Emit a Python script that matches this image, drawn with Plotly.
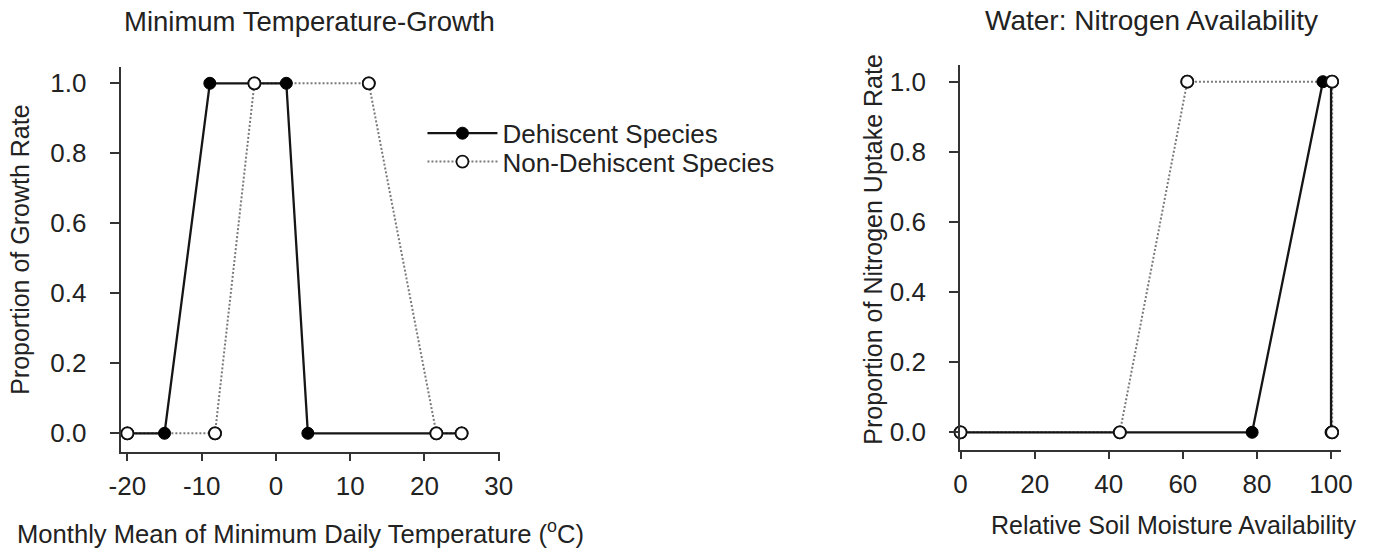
import plotly.graph_objects as go

W, H = 1384, 550

# ---- data ----
temp_deh_x = [-20, -15, -8.9, 1.4, 4.3, 25]
temp_deh_y = [0, 0, 1, 1, 0, 0]
temp_non_x = [-20, -8.2, -2.9, 12.5, 21.6, 25]
temp_non_y = [0, 0, 1, 1, 0, 0]

soil_deh_x = [0, 78.7, 97.8, 100, 100]
soil_deh_y = [0, 0, 1, 1, 0]
soil_non_x = [0, 43, 61.2, 100.3, 100.3]
soil_non_y = [0, 0, 1, 1, 0]

temp_ticks = [-20, -10, 0, 10, 20, 30]
temp_ticklabels = ["-20", "-10", "0", "10", "20", "30"]
soil_ticks = [0, 20, 40, 60, 80, 100]
y_ticks = [0.0, 0.2, 0.4, 0.6, 0.8, 1.0]
y_ticklabels = ["0.0", "0.2", "0.4", "0.6", "0.8", "1.0"]

FONT = "Liberation Sans, Arial, sans-serif"
TXT = "#222222"
AX = "#333333"


def px(x):
    return x / W


def py(y):
    return 1 - y / H


fig = go.Figure()

solid = dict(color="#151515", width=2.3)
dotted = dict(color="#7a7a7a", width=2, dash="2px,2px")
filled = dict(symbol="circle", size=12, color="#000000", line=dict(color="#000000", width=1))
openm = dict(symbol="circle", size=12, color="#ffffff", line=dict(color="#111111", width=1.8))

for xa, ya, dx, dy, nx, ny, leg in [
    ("x", "y", temp_deh_x, temp_deh_y, temp_non_x, temp_non_y, True),
    ("x2", "y2", soil_deh_x, soil_deh_y, soil_non_x, soil_non_y, False),
]:
    fig.add_trace(go.Scatter(x=nx, y=ny, mode="lines+markers", line=dotted, marker=openm,
                             name="Non-Dehiscent Species", showlegend=leg, legend="legend2",
                             xaxis=xa, yaxis=ya, cliponaxis=False))
    fig.add_trace(go.Scatter(x=dx, y=dy, mode="lines+markers", line=solid, marker=filled,
                             name="Dehiscent Species", showlegend=leg, legend="legend",
                             xaxis=xa, yaxis=ya, cliponaxis=False))
    fig.add_trace(go.Scatter(x=nx, y=ny, mode="markers", marker=openm,
                             showlegend=False, xaxis=xa, yaxis=ya, cliponaxis=False,
                             hoverinfo="skip"))

common_x = dict(showline=True, linecolor=AX, linewidth=2, ticks="outside", ticklen=7,
                tickwidth=2, tickcolor=AX, showgrid=False, zeroline=False,
                tickfont=dict(size=26, color=TXT, family=FONT), ticklabelstandoff=3)
common_y = dict(showline=True, linecolor=AX, linewidth=2, ticks="outside", ticklen=9,
                tickwidth=2, tickcolor=AX, showgrid=False, zeroline=False,
                tickfont=dict(size=26, color=TXT, family=FONT), ticklabelstandoff=18,
                tickvals=y_ticks, ticktext=y_ticklabels)

legfont = dict(size=26, color=TXT, family=FONT)
fig.update_layout(
    width=W, height=H,
    margin=dict(l=0, r=0, t=0, b=0),
    paper_bgcolor="white", plot_bgcolor="white",
    font=dict(family=FONT, color=TXT),
    xaxis=dict(domain=[px(110.7), px(496.7)], range=[-20.9, 30.13], tickvals=temp_ticks,
               ticktext=temp_ticklabels, anchor="y", **common_x),
    yaxis=dict(domain=[py(451.7), py(66.7)], range=[-0.0526, 1.0474], anchor="x", **common_y),
    xaxis2=dict(domain=[px(965.5), px(1353.3)], range=[-0.13, 102.65], tickvals=soil_ticks,
                anchor="y2", **common_x),
    yaxis2=dict(domain=[py(450), py(65)], range=[-0.0505, 1.0476], anchor="x2", **common_y),
    legend=dict(x=px(418), y=py(133.3), xanchor="left", yanchor="middle", itemwidth=70,
                font=legfont, bgcolor="rgba(0,0,0,0)"),
    legend2=dict(x=px(418), y=py(161.7), xanchor="left", yanchor="middle", itemwidth=70,
                 font=legfont, bgcolor="rgba(0,0,0,0)"),
    showlegend=True,
)

ann = [
    dict(text="Minimum Temperature-Growth", x=px(302.5), y=py(21.7), size=27.5, angle=0),
    dict(text="Water: Nitrogen Availability", x=px(1160), y=py(20.5), size=28, angle=0),
    dict(text="Proportion of Growth Rate", x=px(8), y=py(250), size=25, angle=-90),
    dict(text="Proportion of Nitrogen Uptake Rate", x=px(876), y=py(249.5), size=25, angle=-90),
    dict(text="Monthly Mean of Minimum Daily Temperature (<sup>o</sup>C)", x=px(294), y=py(531.7), size=25.6, angle=0),
    dict(text="Relative Soil Moisture Availability", x=px(1183), y=py(525), size=25, angle=0),
]
for a in ann:
    fig.add_annotation(text=a["text"], x=a["x"], y=a["y"], xref="paper", yref="paper",
                       xanchor="center", yanchor="middle", showarrow=False,
                       textangle=a["angle"], font=dict(size=a["size"], color=TXT, family=FONT))

fig.write_html("out.html")
